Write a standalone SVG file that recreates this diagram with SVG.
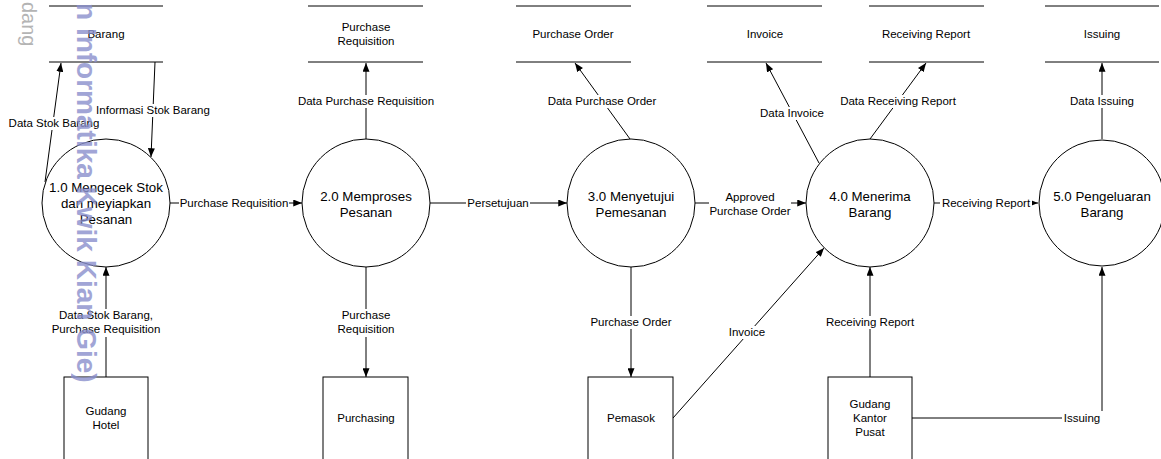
<svg xmlns="http://www.w3.org/2000/svg" width="1161" height="459" viewBox="0 0 1161 459">
<style>
.ln{stroke:#000;stroke-width:1;fill:none}
.st{stroke:#000;stroke-width:1;fill:none}
.pc{stroke:#000;stroke-width:1;fill:#fff}
.en{stroke:#000;stroke-width:1;fill:#fff}
.t{font-family:"Liberation Sans",Arial,sans-serif;font-size:11.5px;fill:#000;text-anchor:middle}
.pt{font-family:"Liberation Sans",Arial,sans-serif;font-size:13.3px;fill:#000;text-anchor:middle}
.bg{fill:#fff}
.wm{font-family:"Liberation Sans",Arial,sans-serif;font-size:28px;font-weight:bold;fill:#8a8fcc;opacity:0.8}
.wg{font-family:"Liberation Sans",Arial,sans-serif;font-size:20px;fill:#b4b4b4}
</style>
<defs>
<marker id="ah" viewBox="0 0 10 8" refX="10" refY="4" markerWidth="9" markerHeight="7" markerUnits="userSpaceOnUse" orient="auto"><path d="M0,0L10,4L0,8z" fill="#000"/></marker>
</defs>
<rect width="1161" height="459" fill="#fff"/>

<g id="connectors">
<line class="ln" x1="45" y1="182" x2="61" y2="63" marker-end="url(#ah)"/>
<line class="ln" x1="155" y1="62" x2="151" y2="157" marker-end="url(#ah)"/>
<line class="ln" x1="170" y1="203" x2="302" y2="203" marker-end="url(#ah)"/>
<line class="ln" x1="366" y1="139" x2="366" y2="63" marker-end="url(#ah)"/>
<line class="ln" x1="430" y1="203" x2="567" y2="203" marker-end="url(#ah)"/>
<line class="ln" x1="630" y1="139" x2="575" y2="63" marker-end="url(#ah)"/>
<line class="ln" x1="695" y1="203" x2="806" y2="203" marker-end="url(#ah)"/>
<line class="ln" x1="819" y1="163" x2="766" y2="63" marker-end="url(#ah)"/>
<line class="ln" x1="870" y1="139" x2="926" y2="63" marker-end="url(#ah)"/>
<line class="ln" x1="1102" y1="139" x2="1102" y2="63" marker-end="url(#ah)"/>
<line class="ln" x1="934" y1="203" x2="1038" y2="203" marker-end="url(#ah)"/>
<line class="ln" x1="106" y1="377" x2="106" y2="267" marker-end="url(#ah)"/>
<line class="ln" x1="366" y1="267" x2="366" y2="377" marker-end="url(#ah)"/>
<line class="ln" x1="631" y1="267" x2="631" y2="377" marker-end="url(#ah)"/>
<line class="ln" x1="673" y1="418" x2="824" y2="248" marker-end="url(#ah)"/>
<line class="ln" x1="870" y1="377" x2="870" y2="267" marker-end="url(#ah)"/>
<polyline class="ln" points="912,418 1102,418 1102,267" marker-end="url(#ah)"/>

<rect class="bg" x="7" y="117" width="95" height="13"/>
<text class="t" x="54" y="127">Data Stok Barang</text>
<rect class="bg" x="94" y="104" width="118" height="13"/>
<text class="t" x="153" y="114">Informasi Stok Barang</text>
<rect class="bg" x="179" y="197" width="110" height="13"/>
<text class="t" x="234" y="207">Purchase Requisition</text>
<rect class="bg" x="296" y="95" width="140" height="13"/>
<text class="t" x="366" y="105">Data Purchase Requisition</text>
<rect class="bg" x="466" y="197" width="64" height="13"/>
<text class="t" x="498" y="207">Persetujuan</text>
<rect class="bg" x="546" y="95" width="112" height="13"/>
<text class="t" x="602" y="105">Data Purchase Order</text>
<rect class="bg" x="709" y="190" width="82" height="28"/>
<text class="t" x="750" y="201">Approved</text>
<text class="t" x="750" y="215">Purchase Order</text>
<rect class="bg" x="758" y="107" width="68" height="13"/>
<text class="t" x="792" y="117">Data Invoice</text>
<rect class="bg" x="838" y="95" width="120" height="13"/>
<text class="t" x="898" y="105">Data Receiving Report</text>
<rect class="bg" x="1068" y="95" width="68" height="13"/>
<text class="t" x="1102" y="105">Data Issuing</text>
<rect class="bg" x="940" y="197" width="92" height="13"/>
<text class="t" x="986" y="207">Receiving Report</text>
<rect class="bg" x="50" y="309" width="112" height="28"/>
<text class="t" x="106" y="319">Data Stok Barang,</text>
<text class="t" x="106" y="333">Purchase Requisition</text>
<rect class="bg" x="335" y="309" width="62" height="28"/>
<text class="t" x="366" y="319">Purchase</text>
<text class="t" x="366" y="333">Requisition</text>
<rect class="bg" x="589" y="316" width="84" height="13"/>
<text class="t" x="631" y="326">Purchase Order</text>
<rect class="bg" x="728" y="326" width="39" height="13"/>
<text class="t" x="747" y="336">Invoice</text>
<rect class="bg" x="825" y="316" width="90" height="13"/>
<text class="t" x="870" y="326">Receiving Report</text>
<rect class="bg" x="1062" y="411" width="41" height="15"/>
<text class="t" x="1082" y="422">Issuing</text>
</g>

<g id="store-barang"><line class="st" x1="49" y1="6" x2="163" y2="6"/><line class="st" x1="49" y1="62" x2="163" y2="62"/><text class="t" x="106" y="38">Barang</text></g>
<g id="store-pr"><line class="st" x1="308" y1="6" x2="423" y2="6"/><line class="st" x1="308" y1="62" x2="423" y2="62"/><text class="t" x="366" y="31">Purchase</text><text class="t" x="366" y="45">Requisition</text></g>
<g id="store-po"><line class="st" x1="516" y1="6" x2="631" y2="6"/><line class="st" x1="516" y1="62" x2="631" y2="62"/><text class="t" x="573" y="38">Purchase Order</text></g>
<g id="store-invoice"><line class="st" x1="707" y1="6" x2="822" y2="6"/><line class="st" x1="707" y1="62" x2="822" y2="62"/><text class="t" x="765" y="38">Invoice</text></g>
<g id="store-rr"><line class="st" x1="869" y1="6" x2="984" y2="6"/><line class="st" x1="869" y1="62" x2="984" y2="62"/><text class="t" x="926" y="38">Receiving Report</text></g>
<g id="store-issuing"><line class="st" x1="1045" y1="6" x2="1159" y2="6"/><line class="st" x1="1045" y1="62" x2="1159" y2="62"/><text class="t" x="1102" y="38">Issuing</text></g>

<g id="p1"><circle class="pc" cx="106" cy="203" r="64"/><text class="pt" x="106" y="192">1.0 Mengecek Stok</text><text class="pt" x="106" y="208">dan meyiapkan</text><text class="pt" x="106" y="224">Pesanan</text></g>
<g id="p2"><circle class="pc" cx="366" cy="203" r="64"/><text class="pt" x="366" y="201">2.0 Memproses</text><text class="pt" x="366" y="217">Pesanan</text></g>
<g id="p3"><circle class="pc" cx="631" cy="203" r="64"/><text class="pt" x="631" y="201">3.0 Menyetujui</text><text class="pt" x="631" y="217">Pemesanan</text></g>
<g id="p4"><circle class="pc" cx="870" cy="203" r="64"/><text class="pt" x="870" y="201">4.0 Menerima</text><text class="pt" x="870" y="217">Barang</text></g>
<g id="p5"><circle class="pc" cx="1102" cy="203" r="63"/><text class="pt" x="1102" y="201">5.0 Pengeluaran</text><text class="pt" x="1102" y="217">Barang</text></g>

<g id="e1"><rect class="en" x="64" y="377" width="84" height="100"/><text class="t" x="106" y="415">Gudang</text><text class="t" x="106" y="429">Hotel</text></g>
<g id="e2"><rect class="en" x="323" y="377" width="85" height="100"/><text class="t" x="366" y="422">Purchasing</text></g>
<g id="e3"><rect class="en" x="588" y="377" width="85" height="100"/><text class="t" x="631" y="422">Pemasok</text></g>
<g id="e4"><rect class="en" x="828" y="377" width="84" height="100"/><text class="t" x="870" y="408">Gudang</text><text class="t" x="870" y="422">Kantor</text><text class="t" x="870" y="436">Pusat</text></g>

<g id="watermark">
<text class="wg" transform="translate(22,2) rotate(90)">dang</text>
<text class="wm" transform="translate(77,3) rotate(90)">n Informatika Kwik Kian Gie)</text>
</g>
</svg>
